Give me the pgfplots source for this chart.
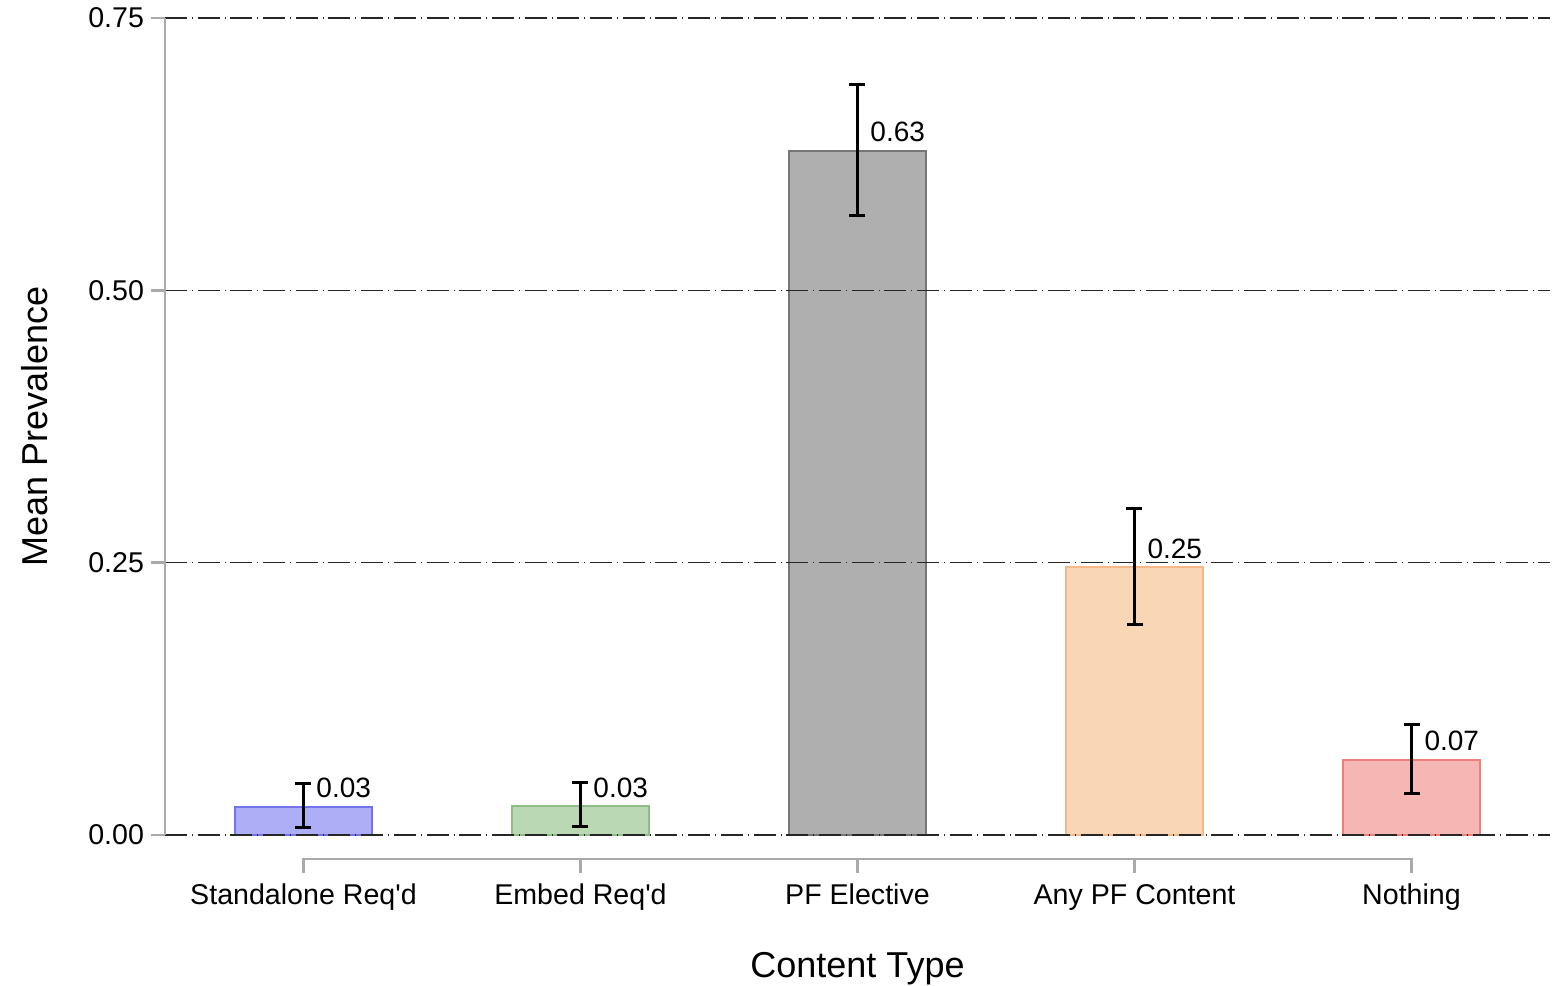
\documentclass[border=0pt]{standalone}
\usepackage{fontspec}
\setmainfont{Liberation Sans}
\usepackage{pgfplots}
\pgfplotsset{compat=1.18}

\definecolor{axisgray}{HTML}{AAAAAA}
\definecolor{standfill}{HTML}{AEAEF6}
\definecolor{standedge}{HTML}{7373EE}
\definecolor{embedfill}{HTML}{BAD8B3}
\definecolor{embededge}{HTML}{8EBE86}
\definecolor{electfill}{HTML}{AFAFAF}
\definecolor{electedge}{HTML}{767676}
\definecolor{anyfill}{HTML}{F9D6B6}
\definecolor{anyedge}{HTML}{F4B987}
\definecolor{nothfill}{HTML}{F6B6B4}
\definecolor{nothedge}{HTML}{EE807C}

% x, mean, upper and lower error
\pgfplotstableread{
x y ep em
0 0.0260 0.0215 0.0193
}\standalonetab
\pgfplotstableread{
x y ep em
1 0.0262 0.0218 0.0186
}\embedtab
\pgfplotstableread{
x y ep em
2 0.6280 0.0608 0.0591
}\electivetab
\pgfplotstableread{
x y ep em
3 0.2457 0.0542 0.0529
}\anytab
\pgfplotstableread{
x y ep em
4 0.0689 0.0327 0.0310
}\nothingtab

\pgfplotsset{
  meanbar/.style={
    bar shift=0pt,
    line width=1pt,
    nodes near coords={\pgfmathprintnumber[fixed,fixed zerofill,precision=2,assume math mode=true]{\pgfplotspointmeta}},
    every node near coord/.append style={anchor=south west, xshift=3pt, yshift=1pt,
      inner sep=3pt, black, font=\fontsize{14}{16}\selectfont},
    error bars/y dir=both,
    error bars/y explicit,
    error bars/error bar style={black, line width=1.5pt},
    error bars/error mark options={rotate=90, black, line width=1.5pt, mark size=4pt},
  },
}

\begin{document}
\begin{tikzpicture}
\useasboundingbox (-82.5pt,-75.5pt) rectangle (700pt,417.5pt);
\begin{axis}[
  at={(0,0)}, anchor=south west,
  scale only axis, width=692.5pt, height=408.5pt,
  xmin=-0.5, xmax=4.5, ymin=0, ymax=0.75,
  clip=false,
  ybar, bar width=0.495,
  axis on top,
  axis y line*=left, axis x line*=bottom,
  x axis line style={draw=none},
  y axis line style={draw=axisgray, line width=1.2pt},
  xtick={0,1,2,3,4},
  xticklabels={Standalone Req\textquotesingle d, Embed Req\textquotesingle d, PF Elective, Any PF Content, Nothing},
  xtick style={draw=none},
  ytick={0,0.25,0.5,0.75},
  ytick style={draw=axisgray, line width=1.2pt},
  tick align=outside, major tick length=7pt,
  ymajorgrids,
  major grid style={black!85, line width=0.65pt, dash pattern=on 11pt off 2.5pt on 0.45pt off 2.4pt},
  yticklabel style={/pgf/number format/.cd, fixed, fixed zerofill, precision=2, assume math mode=true},
  ticklabel style={font=\fontsize{14.3}{16}\selectfont},
  xticklabel style={anchor=base, yshift=-27.5pt},
  every axis y label/.style={at={(axis description cs:-0.094,0.5)}, rotate=90, anchor=center},
  every axis x label/.style={at={(axis description cs:0.5,-0.163)}, anchor=center},
  label style={font=\fontsize{18}{21}\selectfont},
  xlabel={Content Type},
  ylabel={Mean Prevalence},
]
\addplot[meanbar, fill=standfill, draw=standedge]
  table[x=x, y=y, y error plus=ep, y error minus=em] {\standalonetab};
\addplot[meanbar, fill=embedfill, draw=embededge]
  table[x=x, y=y, y error plus=ep, y error minus=em] {\embedtab};
\addplot[meanbar, fill=electfill, draw=electedge]
  table[x=x, y=y, y error plus=ep, y error minus=em] {\electivetab};
\addplot[meanbar, fill=anyfill, draw=anyedge]
  table[x=x, y=y, y error plus=ep, y error minus=em] {\anytab};
\addplot[meanbar, fill=nothfill, draw=nothedge]
  table[x=x, y=y, y error plus=ep, y error minus=em] {\nothingtab};

% offset category axis with outward ticks
\draw[axisgray, line width=1.2pt]
  ([yshift=-19pt]axis cs:0,0) -- ([yshift=-12pt]axis cs:0,0)
  -- ([yshift=-12pt]axis cs:4,0) -- ([yshift=-19pt]axis cs:4,0);
\draw[axisgray, line width=1.2pt]
  ([yshift=-12pt]axis cs:1,0) -- ([yshift=-19pt]axis cs:1,0)
  ([yshift=-12pt]axis cs:2,0) -- ([yshift=-19pt]axis cs:2,0)
  ([yshift=-12pt]axis cs:3,0) -- ([yshift=-19pt]axis cs:3,0);
\end{axis}
\end{tikzpicture}
\end{document}
